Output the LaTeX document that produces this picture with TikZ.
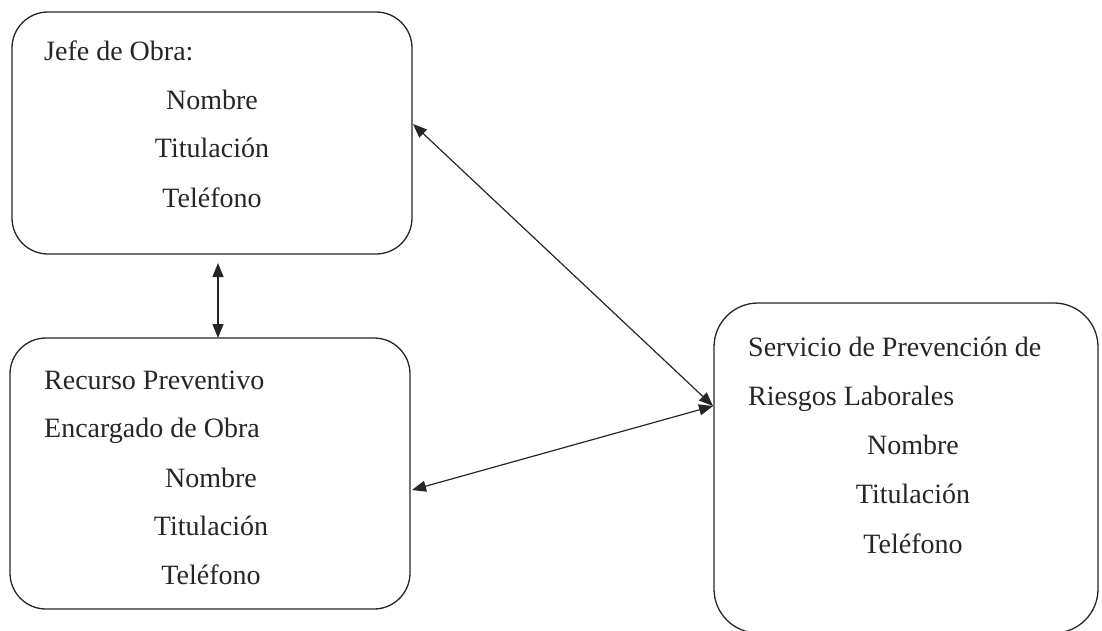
\documentclass[tikz,border=0pt]{standalone}
\usepackage{fontspec}
\setmainfont{Liberation Serif}
\usetikzlibrary{arrows.meta}
\begin{document}
\begin{tikzpicture}[x=1pt,y=-1pt,
  box/.style={draw=black!85, line width=1.3pt, rounded corners=36pt, inner sep=0pt},
  lbl/.style={font=\fontsize{28}{32}\selectfont, inner sep=0pt, anchor=base west, text=black!85},
  ctr/.style={font=\fontsize{28}{32}\selectfont, inner sep=0pt, anchor=base, text=black!85},
  link/.style={draw=black!85, line width=1.2pt, {Triangle[length=14pt,width=11pt]}-{Triangle[length=14pt,width=11pt]}}]
\useasboundingbox (0,0) rectangle (1102,630);
% boxes
\node[box, minimum width=400pt, minimum height=242pt] (jefe) at (212,133) {};
\node[box, minimum width=400pt, minimum height=271pt] (rec) at (210,473.5) {};
\node[box, rounded corners=44pt, minimum width=384pt, minimum height=330pt] (serv) at (906,468) {};
% texts
\node[lbl] (t1) at (44,60) {Jefe de Obra:};
\node[ctr] (t2) at (212,109) {Nombre};
\node[ctr] (t3) at (212,157) {Titulación};
\node[ctr] (t4) at (212,207) {Teléfono};
\node[lbl] (r1) at (44,389) {Recurso Preventivo};
\node[lbl] (r2) at (44,437) {Encargado de Obra};
\node[ctr] (r3) at (211,487) {Nombre};
\node[ctr] (r4) at (211,535.5) {Titulación};
\node[ctr] (r5) at (211,584.5) {Teléfono};
\node[lbl] (s1) at (748,356) {Servicio de Prevención de};
\node[lbl] (s2) at (748,405) {Riesgos Laborales};
\node[ctr] (s3) at (913,454) {Nombre};
\node[ctr] (s4) at (913,503) {Titulación};
\node[ctr] (s5) at (913,553) {Teléfono};
% connector end points
\coordinate (jb) at (218,263);
\coordinate (rt) at (218,338);
\coordinate (je) at (413,124);
\coordinate (sw) at (713,406);
\coordinate (re) at (412,490);
% connectors
\draw[link] (jb) -- (rt);
\draw[link] (je) -- (sw);
\draw[link] (re) -- (sw);
\end{tikzpicture}
\end{document}
